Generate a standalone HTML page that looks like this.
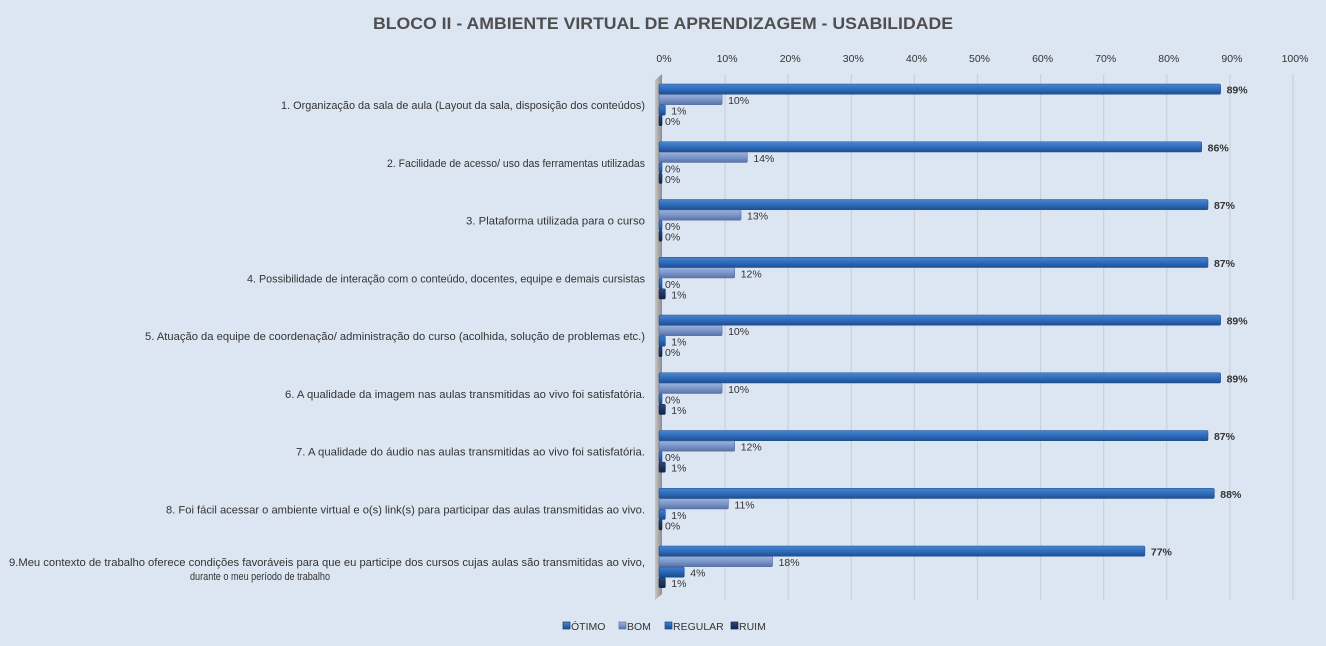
<!DOCTYPE html>
<html><head><meta charset="utf-8"><style>
html,body{margin:0;padding:0;background:#dce6f2;}
svg{display:block;font-family:"Liberation Sans",sans-serif;}
</style></head><body>
<svg id="s" width="1326" height="646" xmlns="http://www.w3.org/2000/svg">
<defs>
<linearGradient id="g0" x1="0" y1="0" x2="0" y2="1"><stop offset="0" stop-color="#4a86d0"/><stop offset="0.5" stop-color="#2f6cbc"/><stop offset="1" stop-color="#1f4f8f"/></linearGradient>
<linearGradient id="g1" x1="0" y1="0" x2="0" y2="1"><stop offset="0" stop-color="#9cb2dc"/><stop offset="0.5" stop-color="#7b95c9"/><stop offset="1" stop-color="#5a73a6"/></linearGradient>
<linearGradient id="g2" x1="0" y1="0" x2="0" y2="1"><stop offset="0" stop-color="#3f7fd0"/><stop offset="0.5" stop-color="#2a67b8"/><stop offset="1" stop-color="#1b4a8a"/></linearGradient>
<linearGradient id="g3" x1="0" y1="0" x2="0" y2="1"><stop offset="0" stop-color="#2b4c80"/><stop offset="0.5" stop-color="#1d3661"/><stop offset="1" stop-color="#12254a"/></linearGradient>
<linearGradient id="wall" x1="0" y1="0" x2="1" y2="0"><stop offset="0" stop-color="#c8c8c8"/><stop offset="1" stop-color="#8c8c8c"/></linearGradient>
</defs>
<rect width="1326" height="646" fill="#dce6f2"/>
<text x="663" y="29" text-anchor="middle" font-size="17" font-weight="bold" fill="#4f4f4f" textLength="580" lengthAdjust="spacingAndGlyphs">BLOCO II - AMBIENTE VIRTUAL DE APRENDIZAGEM - USABILIDADE</text>
<g id="grid"></g>
<polygon points="655,80 662,74 662,594 655,600" fill="url(#wall)"/>
<g id="bars"></g>
<g font-size="11" fill="#333" text-anchor="end" id="cats"></g>
<g font-size="10.5" fill="#333">
<rect x="563" y="622" width="7" height="7" fill="url(#g0)" stroke="#1f3864" stroke-width="0.7"/><text x="571" y="630">ÓTIMO</text>
<rect x="619" y="622" width="7" height="7" fill="url(#g1)" stroke="#5a73a6" stroke-width="0.7"/><text x="627" y="630">BOM</text>
<rect x="665" y="622" width="7" height="7" fill="url(#g2)" stroke="#1b4a8a" stroke-width="0.7"/><text x="673" y="630">REGULAR</text>
<rect x="731" y="622" width="7" height="7" fill="url(#g3)" stroke="#12254a" stroke-width="0.7"/><text x="739" y="630">RUIM</text>
</g>
</svg>
<script>
(function(){
var NS="http://www.w3.org/2000/svg";
function el(p,t,a,txt){var e=document.createElementNS(NS,t);for(var k in a)e.setAttribute(k,a[k]);if(txt!=null)e.textContent=txt;document.getElementById(p).appendChild(e);return e;}
var x0=662,sc=6.31;
for(var i=0;i<=10;i++){var x=x0+i*10*sc;
 if(i>0)el("grid","line",{x1:x,y1:74,x2:x,y2:600,stroke:"#c9d0d9","stroke-width":1.2});
 el("grid","text",{x:x+2,y:62,"text-anchor":"middle","font-size":"10.5",fill:"#333"},i*10+"%");}
var d=[[89,10,1,0],[86,14,0,0],[87,13,0,0],[87,12,0,1],[89,10,1,0],[89,10,0,1],[87,12,0,1],[88,11,1,0],[77,18,4,1]];
var cats=[["1. Organização da sala de aula (Layout da sala, disposição dos conteúdos)",364],
["2. Facilidade de acesso/ uso das ferramentas utilizadas",258],
["3. Plataforma utilizada para o curso",179],
["4. Possibilidade de interação com o conteúdo, docentes, equipe e demais cursistas",398],
["5. Atuação da equipe de coordenação/ administração do curso (acolhida, solução de problemas etc.)",500],
["6. A qualidade da imagem nas aulas transmitidas ao vivo foi satisfatória.",360],
["7. A qualidade do áudio nas aulas transmitidas ao vivo foi satisfatória.",349],
["8. Foi fácil acessar o ambiente virtual e o(s) link(s) para participar das aulas transmitidas ao vivo.",479]];
var strokes=["#1f4f8f","#5a73a6","#1b4a8a","#12254a"];
for(var g=0;g<9;g++){var gt=84+57.75*g;
 for(var s=0;s<4;s++){var v=d[g][s];var y=gt+10.5*s;var w=Math.max(v*sc,3);var xs=659;
  el("bars","rect",{x:xs,y:y,width:w,height:10.2,rx:1.5,fill:"url(#g"+s+")",stroke:strokes[s],"stroke-width":0.6});
  el("bars","text",{x:xs+w+(v==0?3:6),y:y+9.5,"font-size":"10.5",fill:"#333","font-weight":s==0?"bold":"normal"},v+"%");}
 if(g<8){el("cats","text",{x:645,y:gt+25,textLength:cats[g][1],lengthAdjust:"spacingAndGlyphs"},cats[g][0]);}
}
el("cats","text",{x:645,y:566,textLength:636,lengthAdjust:"spacingAndGlyphs"},"9.Meu contexto de trabalho oferece condições favoráveis para que eu participe dos cursos cujas aulas são transmitidas ao vivo,");
el("cats","text",{x:330,y:580,textLength:140,lengthAdjust:"spacingAndGlyphs","font-size":"11"},"durante o meu período de trabalho");
})();
</script>
</body></html>
